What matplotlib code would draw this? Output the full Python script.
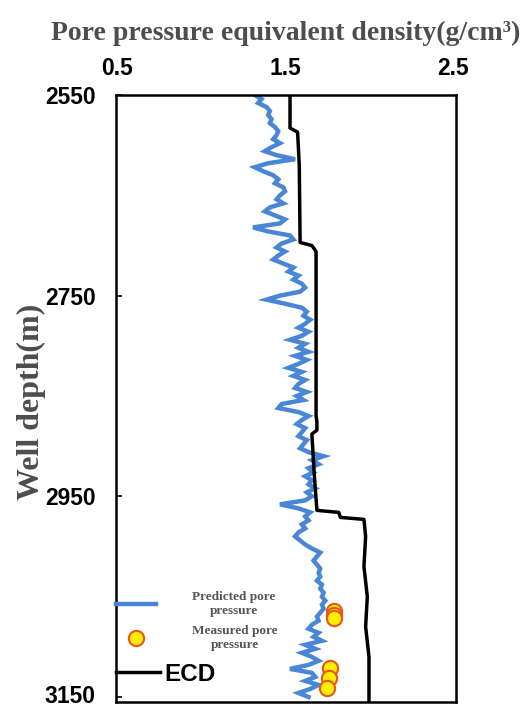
import numpy as np
import matplotlib
matplotlib.use('Agg')
import matplotlib.pyplot as plt
from matplotlib.transforms import ScaledTranslation

# predicted pore pressure, every 4 m from 2550 to 3150
depth = np.arange(2550, 3151, 4)
predicted = [
    1.32, 1.36, 1.34, 1.39, 1.41, 1.40, 1.42, 1.41, 1.44, 1.46,
    1.45, 1.43, 1.47, 1.42, 1.38, 1.45, 1.56, 1.40, 1.32, 1.37,
    1.43, 1.46, 1.44, 1.49, 1.50, 1.47, 1.45, 1.49, 1.41, 1.38,
    1.44, 1.50, 1.47, 1.31, 1.40, 1.53, 1.55, 1.48, 1.45, 1.50,
    1.46, 1.43, 1.49, 1.55, 1.52, 1.58, 1.55, 1.60, 1.62, 1.59,
    1.47, 1.39, 1.50, 1.60, 1.63, 1.61, 1.65, 1.62, 1.58, 1.64,
    1.60, 1.53, 1.62, 1.58, 1.64, 1.56, 1.63, 1.58, 1.52, 1.60,
    1.55, 1.62, 1.58, 1.56, 1.63, 1.57, 1.61, 1.48, 1.46, 1.58,
    1.64, 1.60, 1.57, 1.62, 1.60, 1.58, 1.63, 1.61, 1.59, 1.64,
    1.73, 1.66, 1.70, 1.64, 1.67, 1.62, 1.66, 1.64, 1.68, 1.63,
    1.66, 1.62, 1.47, 1.58, 1.65, 1.62, 1.64, 1.60, 1.62, 1.58,
    1.56, 1.59, 1.62, 1.66, 1.71, 1.69, 1.67, 1.69, 1.71, 1.70,
    1.71, 1.69, 1.72, 1.71, 1.73, 1.72, 1.74, 1.72, 1.73, 1.71,
    1.69, 1.70, 1.66, 1.64, 1.70, 1.67, 1.72, 1.62, 1.68, 1.60,
    1.66, 1.70, 1.64, 1.53, 1.66, 1.68, 1.62, 1.70, 1.65, 1.58, 1.64,
]

# equivalent circulating density
ecd_depth = [2550, 2583, 2587, 2620, 2697, 2700, 2706, 2870, 2876, 2884, 2888,
             2930, 2964, 2966, 2971, 2973, 2990, 3020, 3050, 3080, 3110, 3155]
ecd = [1.53, 1.53, 1.575, 1.585, 1.59, 1.66, 1.685, 1.685, 1.69, 1.69, 1.66,
       1.675, 1.69, 1.82, 1.83, 1.97, 1.98, 1.97, 1.99, 1.98, 2.00, 2.00]

# measured pore pressure
meas_depth = [3064, 3068, 3071, 3121, 3131, 3141]
measured = [1.79, 1.79, 1.79, 1.77, 1.76, 1.75]

xticks = [0.5, 1.5, 2.5]
yticks = [2550, 2750, 2950, 3150]

fig = plt.figure(figsize=(5.26, 7.06), dpi=100)
ax = fig.add_axes([116/526, 1-702/706, 340/526, 607/706])

l1, = ax.plot(predicted, depth, color='#4a86d6', lw=3.2, solid_joinstyle='miter')
l2, = ax.plot(measured, meas_depth, 'o', ms=11, mfc='#ffee00', mec='#e8561c', mew=1.5, ls='none')
l3, = ax.plot(ecd, ecd_depth, color='black', lw=2.5)

ax.set_xlim(0.494, 2.518)
ax.set_ylim(3155, 2550)
ax.xaxis.tick_top()
ax.set_xticks(xticks)
ax.set_xticklabels(['0.5', '1.5', '2.5'])
ax.set_yticks(yticks)
ax.set_yticklabels([str(v) for v in yticks])
ax.tick_params(axis='x', length=0, pad=11)
ax.tick_params(axis='y', direction='in', length=4, width=1.2, pad=14.5)
for lab in ax.get_xticklabels() + ax.get_yticklabels():
    lab.set_fontfamily('Liberation Sans')
    lab.set_fontweight('bold')
    lab.set_fontsize(16.5)
for lab in ax.get_yticklabels():
    lab.set_verticalalignment('center_baseline')
# lift the bottom label a little so it stays inside the figure
last = ax.get_yticklabels()[-1]
last.set_transform(last.get_transform() + ScaledTranslation(0, 3/100, fig.dpi_scale_trans))
for s in ax.spines.values():
    s.set_linewidth(1.8)

ax.xaxis.set_label_position('top')
ax.set_xlabel('Pore pressure equivalent density(g/cm³)', family='Liberation Serif',
              fontweight='bold', fontsize=20, color='#4d4d4d', labelpad=12)
ax.set_ylabel('Well depth(m)', family='Liberation Serif', fontweight='bold',
              fontsize=23, color='#4d4d4d')
ax.yaxis.set_label_coords(-0.205, 0.494)

# legend in two parts: serif entries, then the ECD entry
leg1 = ax.legend([l1, l2], ['Predicted pore\npressure', 'Measured pore\npressure'],
                 loc='upper left', bbox_to_anchor=(0.0, 0.183), frameon=False,
                 handlelength=3.0, handletextpad=2.75, labelspacing=0.62,
                 borderaxespad=0, borderpad=0,
                 prop={'family': 'Liberation Serif', 'weight': 'bold', 'size': 9.5})
for t in leg1.get_texts():
    t.set_color('#555555')
    t.set_multialignment('center')
ax.add_artist(leg1)
leg2 = ax.legend([l3], ['ECD'], loc='lower left', bbox_to_anchor=(0.0, 0.027),
                 frameon=False, handlelength=1.8, handletextpad=0.2,
                 borderaxespad=0, borderpad=0,
                 prop={'family': 'Liberation Sans', 'weight': 'bold', 'size': 17.5})

fig.savefig('out.png', dpi=100)
